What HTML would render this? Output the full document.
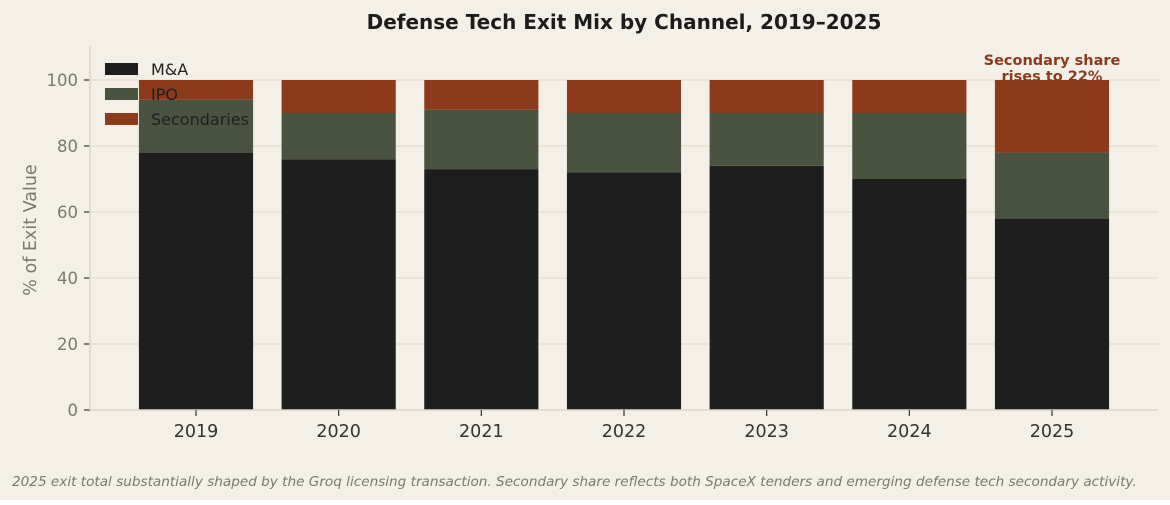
<!DOCTYPE html>
<html><head><meta charset="utf-8"><style>
body{margin:0;background:#f4f0e8;}
svg{display:block;font-family:"DejaVu Sans","Liberation Sans",sans-serif;}
</style></head><body>
<svg id="chart" width="1170" height="505">
<rect x="0" y="0" width="1170" height="500" fill="#f4f0e8"/>
<rect x="0" y="500" width="1170" height="5" fill="#ffffff"/>
<text x="624" y="29" text-anchor="middle" font-size="20" font-weight="bold" fill="#1c1c1c">Defense Tech Exit Mix by Channel, 2019–2025</text>
<g id="grid"></g>
<g id="legend-swatches"></g>
<g id="bars"></g>
<g id="axes"></g>
<g id="legend-text"></g>
<text x="36" y="230" transform="rotate(-90 36 230)" text-anchor="middle" font-size="17.5" fill="#7a7a6c">% of Exit Value</text>
<text x="1052" y="65" text-anchor="middle" font-size="14.5" font-weight="bold" fill="#8b3a1c">Secondary share</text>
<text x="1052" y="81" text-anchor="middle" font-size="14.5" font-weight="bold" fill="#8b3a1c">rises to 22%</text>
<text x="12" y="486" font-size="13.6" font-style="italic" fill="#7a7a6c">2025 exit total substantially shaped by the Groq licensing transaction. Secondary share reflects both SpaceX tenders and emerging defense tech secondary activity.</text>
</svg>
<script>
const categories=["2019","2020","2021","2022","2023","2024","2025"];
const mna=[78,76,73,72,74,70,58];
const ipo=[16,14,18,18,16,20,20];
const secondaries=[6,10,9,10,10,10,22];
const yTicks=[0,20,40,60,80,100];
const NS="http://www.w3.org/2000/svg";
const x0=90,x1=1158,yBase=410,yTop=80;
const y=v=>yBase-(v/100)*(yBase-yTop);
const pad=0.743;
const step=(x1-x0)/(categories.length-1+2*pad);
const xc=i=>x0+step*(i+pad);
const bw=step*0.8;
function mk(t,a,p){const e=document.createElementNS(NS,t);for(const k in a)e.setAttribute(k,a[k]);p.appendChild(e);return e;}
const grid=document.getElementById('grid'),axes=document.getElementById('axes'),bars=document.getElementById('bars');
yTicks.forEach(t=>{
  const g=mk('line',{x1:x0,x2:x1,y1:y(t),y2:y(t),stroke:'#e2dccf','stroke-width':1.2},grid);
  
  
  mk('line',{x1:x0-6,x2:x0,y1:y(t),y2:y(t),stroke:'#333','stroke-width':1.2},axes);
  const l=mk('text',{x:x0-12,y:y(t)+6,'text-anchor':'end','font-size':16.5,fill:'#7a7a6c'},axes);
  l.textContent=t;
  
  
});
mk('line',{x1:x0,x2:x0,y1:46,y2:yBase,stroke:'#ddd6c8','stroke-width':1.5},axes);
mk('line',{x1:x0,x2:x1,y1:yBase,y2:yBase,stroke:'#ddd6c8','stroke-width':1.5},axes);
const series=[[mna,'#1e1e1e','mna'],[ipo,'#4a5240','ipo'],[secondaries,'#8b3a1c','secondaries']];
categories.forEach((c,i)=>{
  let base=0;
  series.forEach(([arr,col,nm])=>{
    const v=arr[i];
    const r=mk('rect',{x:xc(i)-bw/2,y:y(base+v),width:bw,height:y(base)-y(base+v),fill:col},bars);
    
    
    base+=v;
  });
  mk('line',{x1:xc(i),x2:xc(i),y1:yBase,y2:yBase+6,stroke:'#333','stroke-width':1.2},axes);
  const t=mk('text',{x:xc(i),y:yBase+27,'text-anchor':'middle','font-size':17.5,fill:'#333'},axes);
  t.textContent=c;
  
  
});
const ls=document.getElementById('legend-swatches'),lt=document.getElementById('legend-text');
[['M&A','#1e1e1e'],['IPO','#4a5240'],['Secondaries','#8b3a1c']].forEach(([n,c],k)=>{
  const yy=63+k*25;
  const s=mk('rect',{x:105,y:yy,width:33,height:12,fill:c},ls);
  
  
  const t=mk('text',{x:151,y:yy+12,'font-size':16,fill:'#1e1e1e'},lt);
  t.textContent=n;
  
  
});
</script>
</body></html>
